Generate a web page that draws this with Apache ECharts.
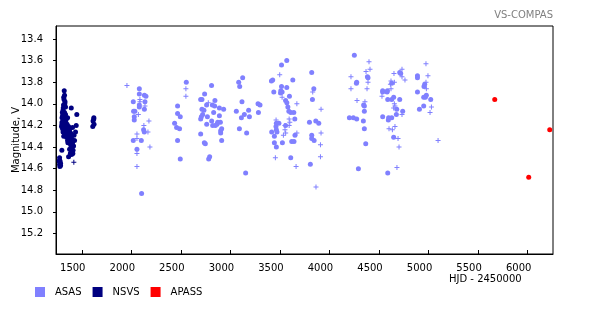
<!DOCTYPE html>
<html><head><meta charset="utf-8">
<script src="https://cdn.jsdelivr.net/npm/echarts@6/dist/echarts.min.js"></script>
<style>html,body{margin:0;padding:0;background:#fff}#c{width:600px;height:310px}</style>
</head><body><div id="c"></div>
<script>
const xTicks = [1500, 2000, 2500, 3000, 3500, 4000, 4500, 5000, 5500, 6000];
const yTicks = [13.4, 13.6, 13.8, 14.0, 14.2, 14.4, 14.6, 14.8, 15.0, 15.2];
const legendNames = ['ASAS', 'NSVS', 'APASS'];

const asasCircle = [
[2081,13.86],[2081,13.91],[2132,13.92],[2148,13.93],[2020,13.98],[2138,13.98],[2081,14.01],[2081,14.03],[2132,14.05],[2023,14.07],[2036,14.07],[2030,14.12],[2030,14.15],[2124,14.24],[2131,14.26],[2020,14.34],[2101,14.34],[2057,14.42],[2104,14.83],
[2555,13.80],[2467,14.02],[2467,14.09],[2494,14.12],[2437,14.18],[2457,14.22],[2487,14.23],[2467,14.34],[2494,14.51],
[2810,13.83],[2740,13.91],[2700,13.96],[2713,13.96],[2760,14.01],[2844,13.97],[2818,14.01],[2841,14.02],[2713,14.05],[2733,14.06],[2831,14.08],[2720,14.10],[2707,14.12],[2700,14.14],[2768,14.12],[2811,14.16],[2872,14.17],[2865,14.19],[2761,14.19],[2821,14.20],[2848,14.20],[2700,14.28],[2737,14.36],[2747,14.37],[2791,14.49],[2781,14.51],[2889,14.04],[2932,14.05],[2889,14.11],[2899,14.17],[2912,14.23],[2902,14.25],[2902,14.27],[2912,14.34],
[3084,13.80],[3124,13.76],[3094,13.84],[3117,13.98],[3279,14.00],[3299,14.01],[3060,14.07],[3184,14.06],[3283,14.08],[3141,14.10],[3111,14.13],[3192,14.12],[3091,14.23],[3164,14.27],[3154,14.64],
[3569,13.60],[3516,13.64],[3427,13.78],[3414,13.79],[3630,13.78],[3516,13.84],[3569,13.85],[3509,13.88],[3506,13.90],[3522,13.89],[3438,13.89],[3596,13.93],[3557,13.97],[3570,13.99],[3580,14.03],[3590,14.07],[3610,14.08],[3640,14.08],[3650,14.14],[3464,14.18],[3490,14.18],[3557,14.20],[3460,14.21],[3464,14.24],[3470,14.26],[3417,14.26],[3652,14.29],[3444,14.30],[3619,14.35],[3642,14.35],[3444,14.36],[3525,14.36],[3464,14.40],[3609,14.50],
[3821,13.71],[3842,13.86],[3828,13.96],[3798,14.17],[3862,14.16],[3892,14.18],[3821,14.29],[3821,14.32],[3845,14.34],[3807,14.56],
[4251,13.55],[4383,13.75],[4389,13.76],[4275,13.80],[4272,13.81],[4345,14.01],[4352,14.02],[4352,14.07],[4201,14.13],[4241,14.13],[4275,14.14],[4342,14.16],[4352,14.23],[4366,14.37],[4292,14.60],
[4719,13.72],[4709,13.71],[4628,13.81],[4537,13.88],[4537,13.89],[4585,13.88],[4581,13.89],[4648,13.94],[4588,13.96],[4628,13.96],[4709,13.96],[4679,14.05],[4739,14.07],[4675,14.10],[4537,14.12],[4597,14.13],[4628,14.13],[4594,14.15],[4648,14.31],[4588,14.64],
[4888,13.74],[4888,13.76],[4961,13.82],[4954,13.84],[4888,13.89],[4978,13.92],[4951,13.94],[4968,13.94],[5022,13.96],[4951,14.02],[4908,14.05]
];
const asasCross = [
[1956,13.83],[2087,13.96],[2087,13.98],[2138,14.02],[2071,14.10],[2178,14.16],[2127,14.20],[2168,14.26],[2057,14.28],[2057,14.32],[2188,14.40],[2057,14.46],[2057,14.58],
[2551,13.86],[2551,13.93],
[2777,13.99],
[3498,13.73],[3522,13.94],[3671,14.00],[3593,14.14],[3461,14.15],[3600,14.17],[3593,14.20],[3550,14.20],[3551,14.24],[3558,14.27],[3671,14.27],[3535,14.29],[3454,14.50],[3663,14.58],
[3831,13.89],[3915,14.05],[3915,14.27],[3909,14.38],[3909,14.49],[3864,14.77],
[4399,13.61],[4369,13.70],[4409,13.68],[4217,13.75],[4389,13.80],[4217,13.86],[4379,13.86],[4278,13.97],[4358,13.98],
[4732,13.68],[4651,13.72],[4732,13.75],[4762,13.78],[4621,13.79],[4655,13.80],[4615,13.82],[4621,13.86],[4530,13.93],[4655,14.00],[4661,14.02],[4648,14.04],[4732,14.10],[4661,14.21],[4601,14.23],[4635,14.24],[4692,14.32],[4702,14.40],[4681,14.59],
[4974,13.63],[4994,13.74],[4974,13.80],[4978,13.86],[5029,14.03],[5015,14.08],[5096,14.34]
];
const nsvsCircle = [
[1323,13.88],[1326,13.92],[1321,13.96],[1331,13.98],[1316,14.01],[1336,14.03],[1311,14.06],[1326,14.08],[1336,14.10],[1306,14.11],[1321,14.13],[1341,14.15],[1301,14.17],[1316,14.19],[1331,14.21],[1306,14.23],[1346,14.23],[1321,14.25],[1336,14.27],[1301,14.13],[1304,14.08],[1296,14.21],[1357,14.13],[1352,14.19],
[1318,13.94],[1329,14.00],[1313,14.04],[1330,14.12],[1311,14.16],[1326,14.17],[1340,14.19],[1300,14.19],[1311,14.26],[1328,14.29],[1345,14.27],[1318,14.30],
[1367,14.21],[1377,14.24],[1387,14.27],[1372,14.30],[1397,14.32],[1382,14.35],[1407,14.36],[1387,14.38],[1402,14.40],[1377,14.42],[1412,14.43],[1392,14.45],[1417,14.39],[1427,14.34],[1422,14.29],[1437,14.26],[1407,14.22],[1357,14.34],[1346,14.31],[1397,14.47],[1367,14.49],
[1362,14.26],[1392,14.30],[1360,14.29],[1380,14.32],[1402,14.35],[1395,14.42],[1385,14.46],[1410,14.46],[1360,14.36],[1350,14.27],
[1394,14.04],[1450,14.10],[1444,14.20],[1299,14.43],
[1276,14.50],[1281,14.53],[1276,14.56],[1286,14.57],[1271,14.53],[1286,14.55],[1279,14.58],
[1622,14.13],[1614,14.16],[1624,14.19],[1611,14.21],[1621,14.14]
];
const nsvsCross = [[1420,14.54]];
const apass = [[5668,13.96],[6011,14.68],[6223,14.24]];

const FONT = 'DejaVu Sans';
const CROSS = 'path://M2,0h1v5h-1zM0,2h5v1h-5z';
const colors = {ASAS:'#8080ff', NSVS:'#000080', APASS:'#ff0000'};

const chart = echarts.init(document.getElementById('c'), null, {renderer:'canvas'});
const textBase = {fontFamily:FONT, fontSize:10, color:'#000'};
const mk = (name, data, symbol) => ({name, type:'scatter', data, symbol, symbolSize:5,
  itemStyle:{color:colors[name], opacity:1}, emphasis:{disabled:true}, silent:true});
chart.setOption({
  animation:false,
  backgroundColor:'#fff',
  title:{text:'VS-COMPAS', right:47, top:10, padding:0,
    textStyle:{fontFamily:FONT, fontSize:10, fontWeight:'normal', color:'#808080'}},
  grid:{left:56, top:26, width:497, height:228, show:true, borderColor:'#000', borderWidth:1,
    backgroundColor:'#fff', containLabel:false, outerBoundsMode:'none'},
  xAxis:{type:'value', min:1240, max:6256,
    axisLine:{show:true, lineStyle:{color:'#000', width:1}},
    axisTick:{show:true, inside:true, length:4, customValues:xTicks, lineStyle:{color:'#000'}},
    axisLabel:Object.assign({customValues:xTicks, margin:9, padding:[0,18,0,0], formatter:v=>String(v)}, textBase),
    splitLine:{show:false}},
  yAxis:{type:'value', inverse:true, min:13.28, max:15.39,
    name:'Magnitude, V', nameLocation:'middle', nameGap:35, nameMoveOverlap:false,
    nameTextStyle:textBase,
    axisLine:{show:true, lineStyle:{color:'#000', width:1}},
    axisTick:{show:true, inside:false, length:3, customValues:yTicks, lineStyle:{color:'#000'}},
    axisLabel:Object.assign({customValues:yTicks, margin:13, align:'right', formatter:v=>v.toFixed(1)}, textBase),
    splitLine:{show:false}},
  legend:{left:35, top:287, padding:0, itemWidth:10, itemHeight:10, itemGap:11,
    textStyle:Object.assign({padding:[0,0,0,5]}, textBase),
    data:legendNames.map(n=>({name:n, icon:'rect', itemStyle:{color:colors[n], opacity:1}}))},
  graphic:[{type:'text', left:449, top:274, style:{text:'HJD - 2450000', font:'10px "DejaVu Sans"', fill:'#000'}}],
  series:[
    mk('ASAS', asasCircle, 'circle'),
    mk('ASAS', asasCross, CROSS),
    mk('NSVS', nsvsCircle, 'circle'),
    mk('NSVS', nsvsCross, CROSS),
    mk('APASS', apass, 'circle')
  ]
});
</script></body></html>
